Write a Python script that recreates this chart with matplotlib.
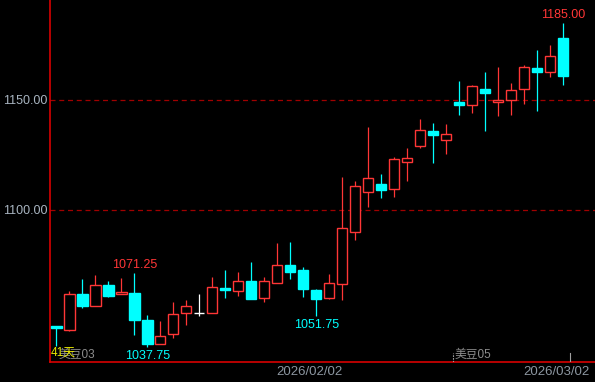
import numpy as np
import matplotlib.pyplot as plt

plt.rcParams['font.family'] = ['Liberation Sans', 'Noto Sans CJK SC']

# daily bars, soybean continuous contract
opens = [1047.25, 1045.5, 1062.0, 1056.5, 1065.75, 1061.75, 1062.25, 1050.0, 1039.25, 1043.5,
         1053.0, 1053.0, 1053.0, 1064.5, 1063.25, 1067.75, 1060.0, 1067.0, 1075.0, 1072.75,
         1063.5, 1060.0, 1066.5, 1090.0, 1108.25, 1112.0, 1109.75, 1122.0, 1129.25, 1136.0,
         1132.0, 1149.0, 1147.5, 1155.0, 1149.25, 1150.0, 1155.0, 1164.5, 1162.5, 1178.25]
highs = [1047.25, 1063.25, 1068.5, 1070.5, 1067.75, 1069.25, 1071.25, 1052.25, 1049.5, 1058.0,
         1059.0, 1061.75, 1069.5, 1072.75, 1071.75, 1076.5, 1069.5, 1085.0, 1085.5, 1074.25,
         1064.0, 1071.0, 1115.0, 1113.25, 1137.75, 1116.5, 1124.0, 1128.25, 1141.5, 1139.5,
         1139.0, 1158.5, 1156.75, 1162.75, 1165.0, 1157.75, 1166.0, 1172.75, 1175.0, 1185.0]
lows = [1038.0, 1045.0, 1055.25, 1056.5, 1060.5, 1061.75, 1043.25, 1037.75, 1039.0, 1041.75,
        1047.5, 1052.0, 1053.0, 1060.0, 1061.0, 1059.75, 1058.25, 1067.0, 1068.75, 1060.5,
        1051.75, 1059.75, 1059.25, 1086.5, 1101.5, 1105.5, 1106.0, 1113.0, 1128.25, 1121.5,
        1125.5, 1143.0, 1144.25, 1136.0, 1142.5, 1143.0, 1148.0, 1145.0, 1160.25, 1157.0]
closes = [1046.25, 1062.0, 1056.5, 1065.75, 1061.0, 1062.75, 1050.0, 1039.0, 1042.75, 1052.5,
          1056.25, 1053.0, 1065.0, 1063.5, 1067.5, 1059.75, 1067.5, 1075.0, 1072.0, 1064.25,
          1059.75, 1066.75, 1091.75, 1110.75, 1114.5, 1109.25, 1123.0, 1123.5, 1136.25, 1134.0,
          1134.5, 1147.5, 1156.25, 1153.25, 1150.0, 1154.5, 1165.0, 1162.5, 1170.0, 1161.0]

high_marks = [6, 39]
low_marks = [7, 20]
yticks = [1100, 1150]
date_labels = ['2026/02/02', '2026/03/02']
date_pos = [19.5, 39.5]
contract_names = ['美豆03', '美豆05']
contract_pos = [0, 30.5]
days_label = '41天'

RED = '#ff3636'
CYAN = '#00ffff'
AXRED = '#d80000'

o = np.array(opens)
h = np.array(highs)
l = np.array(lows)
c = np.array(closes)
x = np.arange(len(o))
up = c > o
down = c < o
flat = c == o

fig = plt.figure(figsize=(5.95, 3.82), dpi=100, facecolor='black')
ax = fig.add_axes([50 / 595, 20 / 382, 545 / 595, 362 / 382])
ax.set_facecolor('black')
ax.set_xlim(-0.485, 41.44)
ax.set_ylim(1030.9, 1195.45)

for v in yticks:
    ax.axhline(v, color='#a00000', lw=0.9, ls=(0, (4, 3)), zorder=1)

# wicks
ax.vlines(x[up], l[up], h[up], color=RED, lw=0.9, zorder=2)
ax.vlines(x[down], l[down], h[down], color=CYAN, lw=0.9, zorder=2)
ax.vlines(x[flat], l[flat], h[flat], color='white', lw=0.9, zorder=2)

# bodies
w = 0.8
ax.bar(x[up], (c - o)[up], bottom=o[up], width=w, facecolor='black',
       edgecolor=RED, lw=1.0, zorder=3)
ax.bar(x[down], (o - c)[down], bottom=c[down], width=w, facecolor=CYAN,
       edgecolor=CYAN, lw=1.0, zorder=3)
ax.hlines(o[flat], x[flat] - w / 2, x[flat] + w / 2, color='white', lw=1.0, zorder=3)

# extreme labels
for i in high_marks:
    ax.annotate(f'{highs[i]:.2f}', xy=(i, highs[i]), xytext=(0, 1.5), textcoords='offset points',
                ha='center', va='bottom', color=RED, fontsize=9)
for i in low_marks:
    ax.annotate(f'{lows[i]:.2f}', xy=(i, lows[i]), xytext=(0, -2), textcoords='offset points',
                ha='center', va='top', color=CYAN, fontsize=9)

ax.set_yticks(yticks)
ax.set_yticklabels([f'{v:.2f}' for v in yticks])
ax.tick_params(axis='y', length=0, pad=2, labelcolor='#a8b4c0', labelsize=9)
ax.set_xticks([])

for s in ['top', 'right']:
    ax.spines[s].set_visible(False)
for s in ['left', 'bottom']:
    ax.spines[s].set_color(AXRED)
    ax.spines[s].set_linewidth(1.2)

# date labels under the axis
for k, (lab, p) in enumerate(zip(date_labels, date_pos)):
    if k == len(date_labels) - 1:
        ax.annotate(lab, xy=(1, 0), xycoords='axes fraction', xytext=(-4, -7.2),
                    textcoords='offset points', ha='right', va='center',
                    color='#8c96a0', fontsize=9.5)
    else:
        ax.annotate(lab, xy=(p, 0), xycoords=('data', 'axes fraction'), xytext=(0, -7.2),
                    textcoords='offset points', ha='center', va='center',
                    color='#8c96a0', fontsize=9.5)

# contract switch markers
trans = ax.get_xaxis_transform()
ax.plot([contract_pos[1]] * 2, [0, 0.025], transform=trans, color='#a0a0a0', lw=0.8,
        ls=(0, (1.5, 1)), zorder=4)
ax.plot([date_pos[1]] * 2, [0, 0.025], transform=trans, color='#a0a0a0', lw=0.8, zorder=4)
for name, p in zip(contract_names, contract_pos):
    ax.annotate(name, xy=(p, 0), xycoords=('data', 'axes fraction'), xytext=(1.5, 4.7),
                textcoords='offset points', ha='left', va='center',
                color='#8c8c8c', fontsize=8.5)
ax.annotate(days_label, xy=(0, 0), xycoords='axes fraction', xytext=(0.8, 6.9),
            textcoords='offset points', ha='left', va='center',
            color='#e6e600', fontsize=8.5)

fig.savefig('out.png', dpi=100, facecolor='black')
